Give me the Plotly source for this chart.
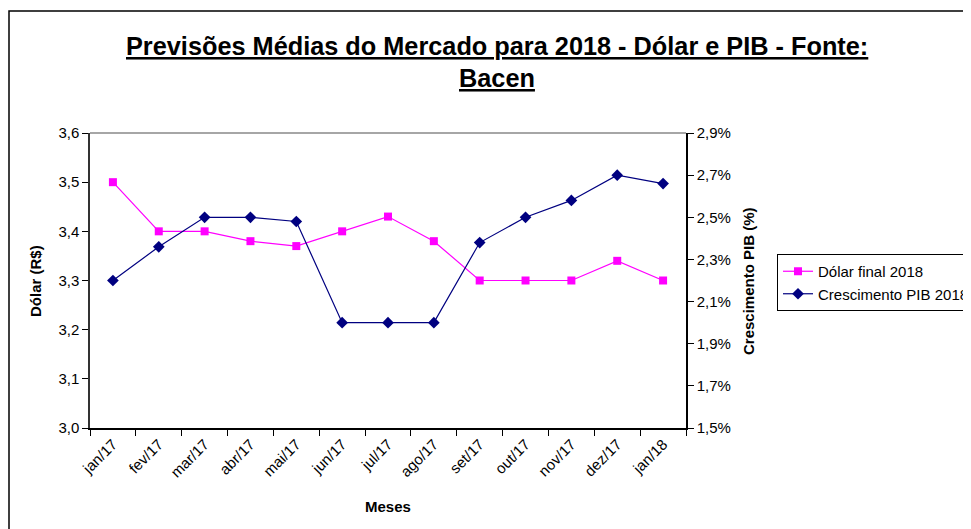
import plotly.graph_objects as go

meses = ["jan/17", "fev/17", "mar/17", "abr/17", "mai/17", "jun/17", "jul/17",
         "ago/17", "set/17", "out/17", "nov/17", "dez/17", "jan/18"]
dolar = [3.50, 3.40, 3.40, 3.38, 3.37, 3.40, 3.43, 3.38, 3.30, 3.30, 3.30, 3.34, 3.30]
pib = [2.20, 2.36, 2.50, 2.50, 2.48, 2.00, 2.00, 2.00, 2.38, 2.50, 2.58, 2.70, 2.66]

FONT = "Arial, 'Liberation Sans', sans-serif"
OFF = 8  # page body margin
W, H = 971 - OFF, 529 - OFF
L, R, T, B = 90 - OFF, 686 - OFF, 133 - OFF, 428 - OFF

fig = go.Figure()
fig.add_trace(go.Scatter(
    x=meses, y=dolar, name="Dólar final 2018", mode="lines+markers",
    line=dict(color="#FF00FF", width=1.2),
    marker=dict(symbol="square", size=8, color="#FF00FF"),
    yaxis="y"))
fig.add_trace(go.Scatter(
    x=meses, y=pib, name="Crescimento PIB 2018", mode="lines+markers",
    line=dict(color="#000080", width=1.2),
    marker=dict(symbol="diamond", size=9, color="#000080"),
    yaxis="y2"))

pw, ph = R - L, B - T

def px(x):
    return (x - OFF - L) / pw

def py(y):
    return (B - (y - OFF)) / ph

fig.update_layout(
    width=W, height=H,
    margin=dict(l=L, r=W - R, t=T, b=H - B, autoexpand=False),
    paper_bgcolor="white", plot_bgcolor="white",
    separators=",.",
    font=dict(family=FONT, size=15, color="black"),
    showlegend=True,
    legend=dict(x=px(777), y=py(254), xanchor="left", yanchor="top",
                bordercolor="black", borderwidth=1, bgcolor="white",
                font=dict(size=15), itemwidth=30, tracegroupgap=0),
    xaxis=dict(type="category", tickson="boundaries", ticks="outside", ticklen=6,
               tickcolor="black", showline=True, linecolor="black", linewidth=1.5,
               tickangle=-45, showgrid=False, zeroline=False,
               tickfont=dict(size=15), range=[-0.5, 12.5]),
    yaxis=dict(range=[3.0, 3.6], dtick=0.1, tick0=3.0, tickformat=".1f", ticks="outside",
               ticklen=6, tickcolor="black", showline=True, linecolor="#333333",
               linewidth=1.5, showgrid=False, zeroline=False, tickfont=dict(size=15)),
    yaxis2=dict(range=[1.5, 2.9], dtick=0.2, tick0=1.5, tickformat=".1f", ticksuffix="%",
                overlaying="y", side="right", ticks="outside", ticklen=6,
                tickcolor="black", showline=True, linecolor="black", linewidth=1.5,
                showgrid=False, zeroline=False, tickfont=dict(size=15)),
    shapes=[
        dict(type="line", xref="paper", yref="paper", x0=0, x1=1, y0=1, y1=1,
             line=dict(color="#888888", width=1.5)),
        dict(type="rect", xref="paper", yref="paper", x0=px(9), x1=px(1000),
             y0=py(560), y1=py(11), line=dict(color="black", width=1.5)),
    ],
    annotations=[
        dict(text="<b><u>Previsões Médias do Mercado para 2018 - Dólar e PIB - Fonte:</u></b>",
             xref="paper", yref="paper", x=px(497), y=py(46), showarrow=False,
             font=dict(size=25.3), xanchor="center", yanchor="middle"),
        dict(text="<b><u>Bacen</u></b>",
             xref="paper", yref="paper", x=px(497), y=py(78), showarrow=False,
             font=dict(size=25.3), xanchor="center", yanchor="middle"),
        dict(text="<b>Dólar (R$)</b>", xref="paper", yref="paper", x=px(35), y=py(281),
             showarrow=False, textangle=-90, font=dict(size=15),
             xanchor="center", yanchor="middle"),
        dict(text="<b>Crescimento PIB (%)</b>", xref="paper", yref="paper", x=px(748),
             y=py(281), showarrow=False, textangle=-90, font=dict(size=15),
             xanchor="center", yanchor="middle"),
        dict(text="<b>Meses</b>", xref="paper", yref="paper", x=px(388), y=py(506),
             showarrow=False, font=dict(size=15), xanchor="center", yanchor="middle"),
    ],
)

fig.write_html("out.html")
